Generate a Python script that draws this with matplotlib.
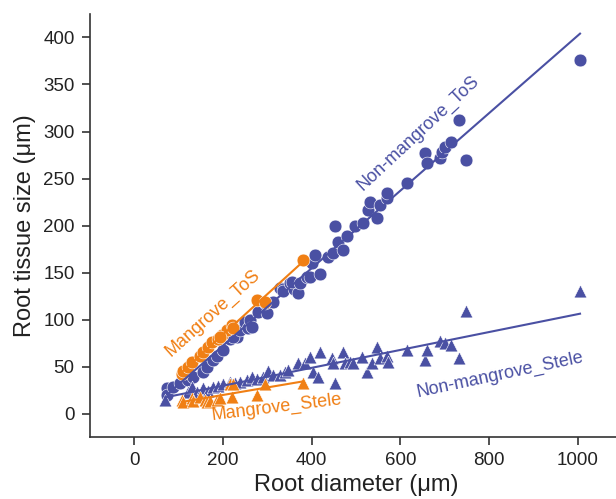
import numpy as np
import matplotlib.pyplot as plt

plt.rcParams['font.family'] = ['Liberation Sans', 'DejaVu Sans']

BLUE = '#4a50a3'
ORANGE = '#f07f14'

# Non-mangrove, total of stele + cortex ("ToS")
nm_tos_x = [74, 74, 88, 104, 120, 133, 156, 165, 178, 187, 201, 216, 232, 210, 223,
            239, 250, 257, 262, 266, 280, 300, 295, 313, 329, 336, 336, 352, 359, 368,
            356, 374, 390, 397, 401, 408, 419, 437, 449, 460, 471, 453, 480, 498, 516,
            528, 532, 548, 555, 570, 570, 616, 656, 661, 690, 694, 701, 713, 733, 749,
            1005]
nm_tos_y = [27, 20, 28, 33, 36, 39, 44, 50, 57, 61, 68, 79, 82, 86, 82,
            89, 97, 91, 100, 92, 108, 107, 118, 119, 134, 132, 130, 139, 132, 128,
            140, 139, 145, 145, 160, 169, 149, 167, 171, 182, 174, 199, 189, 199, 203,
            217, 225, 208, 222, 229, 235, 245, 277, 266, 272, 278, 283, 289, 312, 270,
            376]

# Mangrove ToS
m_tos_x = [108, 110, 120, 131, 149, 156, 167, 176, 189, 198, 210, 221, 194, 223,
           277, 295, 381]
m_tos_y = [42, 45, 50, 55, 61, 66, 71, 76, 79, 84, 89, 94, 82, 91,
           121, 119, 163]

# Non-mangrove stele
nm_st_x = [70, 120, 131, 142, 156, 167, 178, 189, 201, 216, 228, 239, 255, 266, 277,
           291, 302, 313, 329, 340, 347, 368, 386, 397, 404, 415, 419, 446, 449, 453,
           471, 476, 487, 494, 514, 525, 537, 548, 555, 570, 573, 616, 656, 661, 690,
           701, 713, 731, 749, 1005]
nm_st_y = [15, 23, 28, 23, 27, 24, 28, 29, 31, 34, 33, 34, 36, 39, 37,
           39, 45, 41, 41, 44, 46, 54, 54, 60, 44, 39, 65, 59, 54, 33,
           66, 54, 55, 54, 60, 44, 54, 71, 59, 61, 55, 68, 57, 68, 77,
           75, 73, 59, 109, 130]

# Mangrove stele
m_st_x = [108, 110, 131, 133, 149, 160, 165, 171, 187, 194, 216, 221, 223, 277, 295, 381]
m_st_y = [15, 12, 17, 13, 18, 15, 12, 13, 15, 17, 31, 18, 31, 20, 31, 33]

groups = [
    (nm_tos_x, nm_tos_y, BLUE, 'o'),
    (m_tos_x, m_tos_y, ORANGE, 'o'),
    (nm_st_x, nm_st_y, BLUE, '^'),
    (m_st_x, m_st_y, ORANGE, '^'),
]

fig = plt.figure(figsize=(6.16, 4.99), dpi=100)
ax = fig.add_axes([0.146, 0.124, 0.864, 0.848])

for xs, ys, col, mk in groups:
    xs = np.array(xs, dtype=float)
    ys = np.array(ys, dtype=float)
    ax.scatter(xs, ys, s=85, marker=mk, color=col, edgecolors='white',
               linewidths=0.4, zorder=2)
    k, b = np.polyfit(xs, ys, 1)
    xx = np.array([xs.min(), xs.max()])
    ax.plot(xx, k * xx + b, color=col, lw=1.5, zorder=3)

ax.text(178, 107, 'Mangrove_ToS', color=ORANGE, fontsize=13, rotation=42,
        ha='center', va='center', rotation_mode='anchor')
ax.text(640, 298, 'Non-mangrove_ToS', color=BLUE, fontsize=13, rotation=43,
        ha='center', va='center', rotation_mode='anchor')
ax.text(322, 7, 'Mangrove_Stele', color=ORANGE, fontsize=13, rotation=7,
        ha='center', va='center', rotation_mode='anchor')
ax.text(825, 41, 'Non-mangrove_Stele', color=BLUE, fontsize=13, rotation=12,
        ha='center', va='center', rotation_mode='anchor')

ax.set_xlim(-100, 1100)
ax.set_ylim(-25, 425)
ax.set_xticks([0, 200, 400, 600, 800, 1000])
ax.set_yticks(np.arange(0, 401, 50))
ax.spines['top'].set_visible(False)
ax.spines['right'].set_visible(False)
for s in ('left', 'bottom'):
    ax.spines[s].set_color('#333333')
    ax.spines[s].set_linewidth(1.2)
ax.tick_params(direction='out', length=6, width=1.2, color='#333333',
               labelsize=13.5, labelcolor='#222222', pad=5)
ax.set_xlabel('Root diameter (μm)', fontsize=17, color='#222222', labelpad=3)
ax.set_ylabel('Root tissue size (μm)', fontsize=17, color='#222222', labelpad=5)

fig.savefig('out.png', dpi=100)
